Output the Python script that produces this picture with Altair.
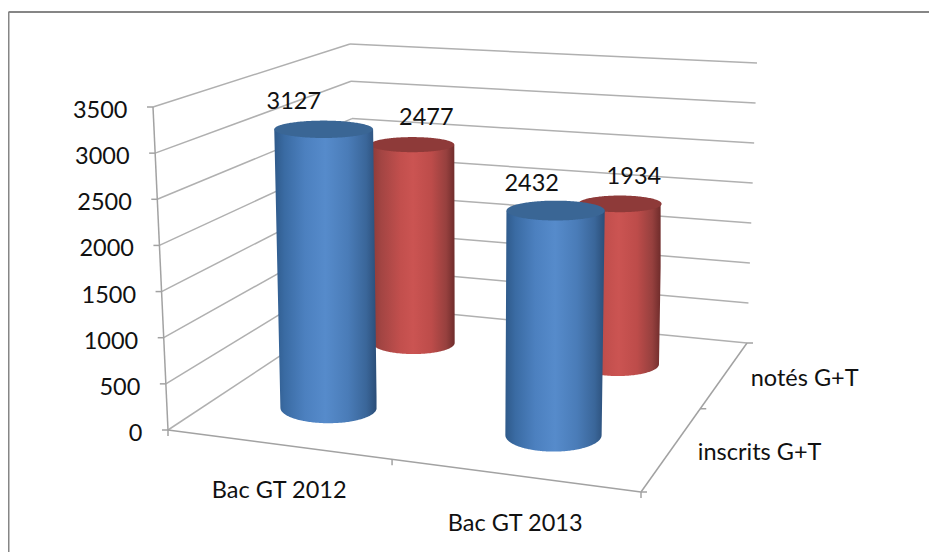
import altair as alt
import numpy as np
import pandas as pd

# ---- chart values ----
categories = ["Bac GT 2012", "Bac GT 2013"]
series = ["inscrits G+T", "notés G+T"]
inscrits = [3127, 2432]
notes = [2477, 1934]
y_ticks = [0, 500, 1000, 1500, 2000, 2500, 3000, 3500]

W, H = 921, 544
FONT = "Lato"
FS = 23.5
GRID = "#b0b0b0"
AXIS = "#a2a2a2"
BORDER = "#868686"
YMAX = 3500.0

# ---- oblique view: corners of the plot box in picture pixels ----
floor_box = [(168, 430), (641, 492), (747, 343), (357, 305)]
roof_box = [(153, 107), (656, 145), (757, 63), (350, 44)]


def homography(pts):
    src = [(0, 0), (1, 0), (1, 1), (0, 1)]
    A, b = [], []
    for (u, v), (x, y) in zip(src, pts):
        A.append([u, v, 1, 0, 0, 0, -u * x, -v * x])
        b.append(x)
        A.append([0, 0, 0, u, v, 1, -u * y, -v * y])
        b.append(y)
    return np.append(np.linalg.solve(np.array(A, float), np.array(b, float)), 1).reshape(3, 3)


HF, HR = homography(floor_box), homography(roof_box)


def apply(M, u, v):
    p = M @ np.array([u, v, 1.0])
    return p[:2] / p[2]


def project(u, v, value):
    t = value / YMAX
    return (1 - t) * apply(HF, u, v) + t * apply(HR, u, v)


def xs():
    return alt.X("x:Q", scale=alt.Scale(domain=[8, 8 + W], range=[0, W], nice=False, zero=False), axis=None)


def ys():
    return alt.Y("y:Q", scale=alt.Scale(domain=[8 + H, 8], range=[H, 0], nice=False, zero=False), axis=None)


def lines(segments, color, width):
    rows = []
    for i, (a, b) in enumerate(segments):
        rows.append({"id": i, "o": 0, "x": float(a[0]), "y": float(a[1])})
        rows.append({"id": i, "o": 1, "x": float(b[0]), "y": float(b[1])})
    return alt.Chart(pd.DataFrame(rows)).mark_line(color=color, strokeWidth=width).encode(
        x=xs(), y=ys(), detail="id:N", order="o:Q")


def spans(poly, sample):
    rows = []
    n = len(poly)
    for x in sample:
        hits = []
        for i in range(n):
            p, q = poly[i], poly[(i + 1) % n]
            lo, hi = min(p[0], q[0]), max(p[0], q[0])
            if lo <= x <= hi:
                if hi == lo:
                    hits += [p[1], q[1]]
                else:
                    hits.append(p[1] + (q[1] - p[1]) * (x - p[0]) / (q[0] - p[0]))
        if hits:
            rows.append({"x": float(x), "y": float(min(hits)), "y2": float(max(hits))})
    return pd.DataFrame(rows)


def shape(poly, fill):
    px = [float(p[0]) for p in poly]
    sample = sorted(set(round(v, 3) for v in px) | set(np.round(np.linspace(min(px), max(px), 80), 3).tolist()))
    return alt.Chart(spans(poly, sample)).mark_area(color=fill, interpolate="linear", line=False).encode(
        x=xs(), y=ys(), y2="y2:Q")


def tilt(y):
    t = (y - 100) / 333
    return 0.17 + 0.06 * t + 0.11 * t * t


def radius(v, value):
    return (51.5 - 14 * v) * (1 + 0.03 * value / YMAX)


def ellipse(c, rx, ry, n=72):
    a = np.linspace(0, 2 * np.pi, n, endpoint=False)
    return [(c[0] + rx * np.cos(t), c[1] + ry * np.sin(t)) for t in a]


def gradient(stops):
    return alt.Gradient(gradient="linear", x1=0, x2=1, y1=0, y2=0,
                        stops=[alt.GradientStop(offset=o, color=c) for o, c in stops])


BLUE = gradient([(0, "#2f5a8a"), (0.1, "#3a6ba3"), (0.3, "#4c80bf"), (0.5, "#568bcb"),
                 (0.72, "#4a7cb8"), (0.9, "#3a6699"), (1, "#2b4e78")])
RED = gradient([(0, "#8c3a38"), (0.12, "#a34543"), (0.35, "#c24f4d"), (0.5, "#cb5452"),
                (0.72, "#bd4c4a"), (0.9, "#96403e"), (1, "#6f2c2b")])
CAPS = {"blue": "#3a6695", "red": "#8e3a39"}


def cylinder(u, v, value, body, cap):
    c0, c1 = project(u, v, 0), project(u, v, value)
    c1 = c1 + np.array([8 * (1 - u) * value / YMAX, 0])
    r0, r1 = radius(v, 0), radius(v, value)
    ry0, ry1 = r0 * tilt(c0[1]), r1 * tilt(c1[1])
    a = np.linspace(0, np.pi, 41)
    arc = [(c0[0] + r0 * np.cos(t), c0[1] + ry0 * np.sin(t)) for t in a]
    poly = [(c1[0] - r1, c1[1]), (c1[0] + r1, c1[1])] + arc
    return [shape(poly, body), shape(ellipse(c1, r1, ry1), cap)], c1


def label(x, y, text, align="center", size=FS):
    df = pd.DataFrame({"x": [float(x)], "y": [float(y)], "t": [text]})
    return alt.Chart(df).mark_text(align=align, baseline="middle", font=FONT, fontSize=size, color="#111111").encode(
        x=xs(), y=ys(), text="t:N")


layers = []

# frame of the picture
layers.append(lines([((8.5, 12), (8 + W, 12)), ((8.5, 12), (8.5, 8 + H))], BORDER, 2))

# gridlines on the left and back walls
segs = []
for t in y_ticks:
    segs.append((project(0, 0, t), project(0, 1, t)))
    segs.append((project(0, 1, t), project(1, 1, t)))
layers.append(lines(segs, GRID, 1.5))

# axes and tick marks
axes = [(project(0, 0, 0), project(0, 0, YMAX)),
        (project(0, 0, 0), project(1, 0, 0)),
        (project(1, 0, 0), project(1, 1, 0))]
for t in y_ticks:
    p = project(0, 0, t)
    axes.append((p, p + np.array([-6, 0])))
for u in (0, 0.5, 1):
    p = project(u, 0, 0)
    axes.append((p, p + np.array([0, 6])))
for v in (0, 0.5, 1):
    p = project(1, v, 0)
    axes.append((p, p + np.array([6, 0])))
layers.append(lines(axes, AXIS, 1.5))

# cylinders, back row first
U = [0.257, 0.757]
V_ROW = [0.24, 0.74]
tops = {}
for j, (vals, body, cap) in reversed(list(enumerate([(inscrits, BLUE, CAPS["blue"]), (notes, RED, CAPS["red"])]))):
    for i, val in enumerate(vals):
        ls, top = cylinder(U[i], V_ROW[j], val, body, cap)
        layers += ls
        tops[(i, j)] = (top, val)

# data labels
for (i, j), (top, val) in tops.items():
    dx = -33 + 12 * U[i] if j == 0 else 14
    layers.append(label(top[0] + dx, top[1] - 27, str(val)))

# value axis labels
for t in y_ticks:
    p = project(0, 0, t)
    layers.append(label(p[0] - 25.5, p[1] + 4, str(t), align="right"))

# category labels
fr = [project(0.25, 0, 0), project(0.75, 0, 0)]
for p, c, dy in zip(fr, categories, (47, 49)):
    layers.append(label(p[0] + 2, p[1] + dy, c))

# series labels
side = [project(1, 0.27, 0), project(1, 0.78, 0)]
for p, s in zip(side, series):
    layers.append(label(p[0] + 23, p[1] + 9, s, align="left"))

chart = alt.layer(*layers).properties(
    width=W, height=H, padding=0, background="white",
    autosize=alt.AutoSizeParams(type="none")).configure_view(stroke=None)
chart.save("out.html", embed_options={"renderer": "svg", "actions": False})
